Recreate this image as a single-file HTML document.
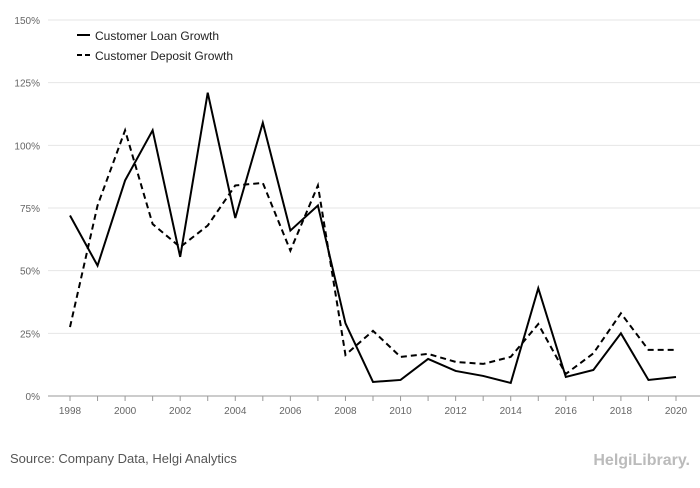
<!DOCTYPE html>
<html><head><meta charset="utf-8"><style>
body{margin:0;background:#fff;font-family:"Liberation Sans",sans-serif}
svg text{font-family:"Liberation Sans",sans-serif}
</style></head><body>
<svg id="chart" width="700" height="483">
<g id="grid"></g><g id="series"></g>
<g>
<line x1="77" y1="35" x2="90" y2="35" stroke="#000" stroke-width="2"/>
<text x="95" y="40" font-size="12" fill="#222">Customer Loan Growth</text>
<line x1="77" y1="55" x2="90" y2="55" stroke="#000" stroke-width="2" stroke-dasharray="5,3"/>
<text x="95" y="60" font-size="12" fill="#222">Customer Deposit Growth</text>
</g>
<text x="10" y="463" font-size="13" fill="#555">Source: Company Data, Helgi Analytics</text>
<text x="690" y="465" font-size="16" fill="#bbb" text-anchor="end" font-weight="bold">HelgiLibrary.</text>
</svg>
<script>
const years=[1998,1999,2000,2001,2002,2003,2004,2005,2006,2007,2008,2009,2010,2011,2012,2013,2014,2015,2016,2017,2018,2019,2020];
const loanGrowth=[72,52,86,106,55.5,121,71,109,66,76,29,5.6,6.4,14.8,10,8,5.2,43,7.6,10.4,25,6.4,7.6];
const depositGrowth=[27.5,76,106,68.6,59.4,68,84,85,58,84,16.4,26,15.6,16.8,13.6,12.8,15.6,28.7,8.8,17,33,18.4,18.4];
const yTicks=[0,25,50,75,100,125,150];
const xTickYears=[1998,2000,2002,2004,2006,2008,2010,2012,2014,2016,2018,2020];
const NS="http://www.w3.org/2000/svg";
const x=v=>70+(v-1998)*(676-70)/22;
const y=v=>396-v*(376/150);
const grid=document.getElementById('grid'),ser=document.getElementById('series');
function mk(t,a,p){const e=document.createElementNS(NS,t);for(const k in a)e.setAttribute(k,a[k]);p.appendChild(e);return e;}
yTicks.forEach(v=>{
 const l=mk('line',{x1:48,x2:700,y1:y(v),y2:y(v),stroke:v===0?'#999':'#e6e6e6'},grid);
 
 
 const t=mk('text',{x:40,y:y(v)+4,'font-size':10,fill:'#666','text-anchor':'end'},grid);
 t.textContent=v+'%';
 
 
});
years.forEach(yr=>{
 const l=mk('line',{x1:x(yr),x2:x(yr),y1:396,y2:401,stroke:'#999'},grid);
 
 
});
xTickYears.forEach(yr=>{
 const t=mk('text',{x:x(yr),y:414,'font-size':10,fill:'#666','text-anchor':'middle'},grid);
 t.textContent=yr;
 
 
});
function line(vals,dash,name){
 const d=vals.map((v,i)=>(i?'L':'M')+x(years[i])+','+y(v)).join('');
 const p=mk('path',{d:d,fill:'none',stroke:'#000','stroke-width':2,'stroke-dasharray':dash},ser);
 
 
}
line(loanGrowth,'none','loan-growth-line');
line(depositGrowth,'6,4','deposit-growth-line');
</script>
</body></html>
